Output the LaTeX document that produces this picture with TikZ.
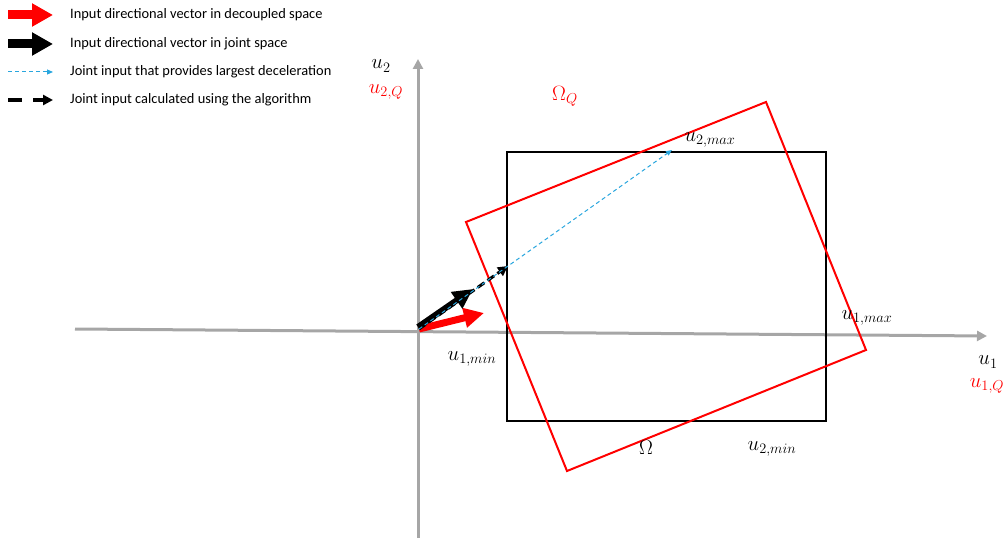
\documentclass[tikz,border=0pt]{standalone}
\usepackage{fontspec}
\setmainfont{Carlito}
\usetikzlibrary{arrows.meta}
\definecolor{axisgray}{RGB}{166,166,166}
\definecolor{lightblue}{RGB}{41,166,222}

\begin{document}
\begin{tikzpicture}[x=1pt, y=-1pt,
    axis/.style={draw=axisgray, line width=3pt, -{Triangle[length=10pt,width=10pt]}},
    fatarrow/.style={line width=#1, -{Triangle[length=20pt,width=19pt]}},
    fatarrow/.default=7pt,
    blueref/.style={lightblue, line width=1pt, dash pattern=on 4pt off 3pt, -{Triangle[length=6pt,width=5pt]}},
    algdash/.style={black, line width=3pt, dash pattern=on 8pt off 4pt, -{Triangle[length=10pt,width=10pt]}},
    lbl/.style={font=\fontsize{22}{26}\selectfont, inner sep=0pt},
    legtext/.style={anchor=west, font=\fontsize{14.4}{17}\selectfont, inner sep=0pt}]
    \useasboundingbox (0,0) rectangle (1007,540);

    % axes
    \coordinate (O) at (419,329);
    \coordinate (xl) at (75,329);
    \coordinate (xr) at (987,336);
    \coordinate (yb) at (418,538);
    \coordinate (yt) at (418,59);
    \draw[axis] (xl) -- (xr);
    \draw[axis] (yb) -- (yt);

    % input set in joint space
    \draw[line width=2.5pt] (507,152) rectangle (826,421);
    % input set in decoupled space
    \coordinate (qt) at (766,102);
    \coordinate (qr) at (866,350);
    \coordinate (qb) at (567,471);
    \coordinate (ql) at (466,222);
    \draw[red, line width=2pt] (qt) -- (qr) -- (qb) -- (ql) -- cycle;

    % direction vectors
    \coordinate (dec) at (484,313);
    \coordinate (jnt) at (473,289);
    \coordinate (alg) at (508,266);
    \coordinate (best) at (672,150);
    \draw[red, fatarrow] (O) -- (dec);
    \draw[black, fatarrow=6pt] (418,327) -- (jnt);
    \draw[algdash] (O) -- (alg);
    \draw[blueref] (O) -- (best);

    % bounds
    \node[lbl] (u2max) at (710,140) {$u_{2,max}$};
    \node[lbl] (u1max) at (867,318) {$u_{1,max}$};
    \node[lbl] (u1min) at (472,359) {$u_{1,min}$};
    \node[lbl] (u2min) at (772,449) {$u_{2,min}$};
    \node[lbl] (om) at (646,447) {$\Omega$};
    \node[lbl, red] (omq) at (565,96) {$\Omega_Q$};

    % axis names
    \node[lbl] (u2) at (381,66) {$u_2$};
    \node[lbl, red] (u2q) at (386,92) {$u_{2,Q}$};
    \node[lbl] (u1) at (988,362) {$u_1$};
    \node[lbl, red] (u1q) at (987,386) {$u_{1,Q}$};

    % legend
    \coordinate (la1) at (8,15);  \coordinate (lb1) at (53,15);
    \coordinate (la2) at (8,44);  \coordinate (lb2) at (53,44);
    \coordinate (la3) at (8,72);  \coordinate (lb3) at (53,72);
    \coordinate (la4) at (8,100); \coordinate (lb4) at (53,100);
    \draw[red, line width=9pt, -{Triangle[length=21pt,width=22pt]}] (la1) -- (lb1);
    \draw[black, line width=9pt, -{Triangle[length=21pt,width=22pt]}] (la2) -- (lb2);
    \draw[blueref] (la3) -- (lb3);
    \draw[black, line width=3.5pt, dash pattern=on 14pt off 11pt, -{Triangle[length=10pt,width=10pt]}] (la4) -- (lb4);
    \node[legtext] (t1) at (70,15) {Input directional vector in decoupled space};
    \node[legtext] (t2) at (70,44) {Input directional vector in joint space};
    \node[legtext] (t3) at (70,72) {Joint input that provides largest deceleration};
    \node[legtext] (t4) at (70,100) {Joint input calculated using the algorithm};
\end{tikzpicture}
\end{document}
